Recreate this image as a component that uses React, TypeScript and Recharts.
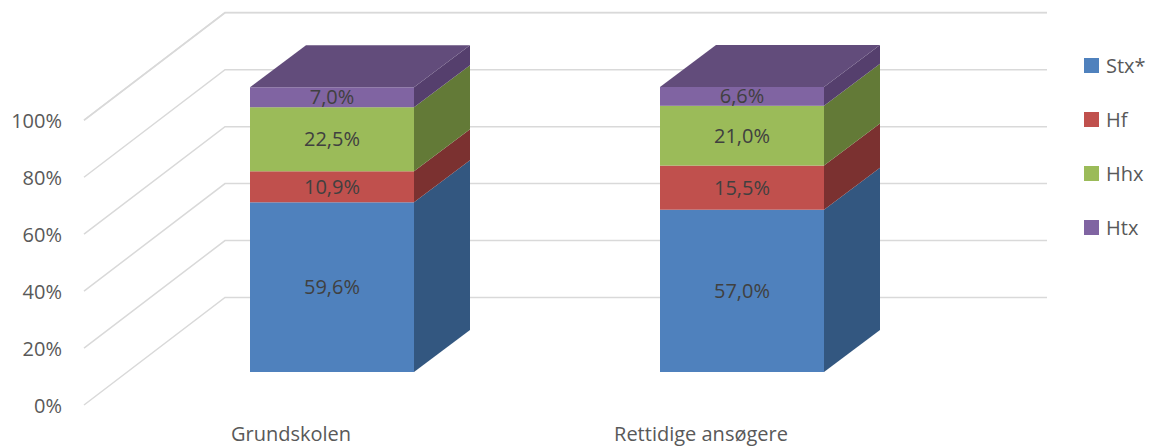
import React from "react";
import { BarChart, Bar, XAxis, YAxis, CartesianGrid, LabelList, Legend } from "recharts";

const categories = ["Grundskolen", "Rettidige ansøgere"];
const stx = [59.6, 57.0];
const hf = [10.9, 15.5];
const hhx = [22.5, 21.0];
const htx = [7.0, 6.6];
const yTicks = [0, 20, 40, 60, 80, 100];

const data = categories.map((name, i) => ({
  name,
  stx: stx[i],
  hf: hf[i],
  hhx: hhx[i],
  htx: htx[i],
}));

const FONT = "'Open Sans', sans-serif";
// depth of the fake 3d boxes
const DX = 56;
const DY = 42;

const series = [
  { key: "stx", name: "Stx*", front: "#4F81BD", side: "#335780", top: "#3F6A9C" },
  { key: "hf", name: "Hf", front: "#C0504D", side: "#7B3130", top: "#9E3F3C" },
  { key: "hhx", name: "Hhx", front: "#9BBB59", side: "#637A37", top: "#7E9A46" },
  { key: "htx", name: "Htx", front: "#8064A2", side: "#553F6D", top: "#624C7B" },
];

const fmt = (v: any) => Number(v).toFixed(1).replace(".", ",") + "%";

function Box3D(props: any) {
  const { x, y, width, height, front, side, top, isTop } = props;
  if (!width || height == null) return null;
  const r = x + width;
  return (
    <g>
      <rect x={x} y={y} width={width} height={height} fill={front} />
      <path
        d={`M${r},${y}L${r + DX},${y - DY}L${r + DX},${y + height - DY}L${r},${y + height}Z`}
        fill={side}
      />
      {isTop && (
        <path d={`M${x},${y}L${x + DX},${y - DY}L${r + DX},${y - DY}L${r},${y}Z`} fill={top} />
      )}
    </g>
  );
}

const gridLine = (p: any) => {
  const y = p.y1;
  return (
    <path
      key={`g-${p.index}-${y}`}
      d={`M84,${y + 33}L225,${y - 74.5}L1047,${y - 74.5}`}
      stroke="#D9D9D9"
      strokeWidth={1.5}
      fill="none"
    />
  );
};

const YTick = (p: any) => (
  <text x={62} y={p.y + 33} textAnchor="end" dominantBaseline="central" fill="#595959" fontSize={20} fontFamily={FONT}>
    {p.payload.value}%
  </text>
);

const XTick = (p: any) => (
  <text x={p.x - 41} y={433} textAnchor="middle" dominantBaseline="central" fill="#595959" fontSize={20} fontFamily={FONT}>
    {p.payload.value}
  </text>
);

const LegendBox = () => (
  <div style={{ fontFamily: FONT }}>
    {series.map((s) => (
      <div key={s.key} style={{ height: 54, display: "flex", alignItems: "center" }}>
        <span style={{ width: 15, height: 15, background: s.front, display: "inline-block" }} />
        <span style={{ marginLeft: 7, fontSize: 20, color: "#595959" }}>{s.name}</span>
      </div>
    ))}
  </div>
);

export default function App() {
  return (
    <div style={{ position: "absolute", left: 0, top: 0, background: "#fff" }}>
      <BarChart
        width={1152}
        height={446}
        data={data}
        margin={{ top: 87, right: 205, left: 0, bottom: 44 }}
        barCategoryGap="30%"
      >
        <CartesianGrid vertical={false} horizontal={gridLine} />
        <XAxis dataKey="name" axisLine={false} tickLine={false} height={30} tick={<XTick />} interval={0} />
        <YAxis
          width={127}
          domain={[0, 100]}
          ticks={yTicks}
          axisLine={false}
          tickLine={false}
          tick={<YTick />}
        />
        <Legend
          layout="vertical"
          align="center"
          verticalAlign="middle"
          wrapperStyle={{ left: 1084, top: 38, width: 80 }}
          content={<LegendBox />}
        />
        {series.map((s, i) => (
          <Bar
            key={s.key}
            dataKey={s.key}
            name={s.name}
            stackId="a"
            fill={s.front}
            isAnimationActive={false}
            shape={(p: any) => (
              <Box3D {...p} front={s.front} side={s.side} top={s.top} isTop={i === series.length - 1} />
            )}
          >
            <LabelList
              dataKey={s.key}
              position="center"
              formatter={fmt}
              fill="#404040"
              fontSize={20}
              fontFamily={FONT}
            />
          </Bar>
        ))}
      </BarChart>
    </div>
  );
}
